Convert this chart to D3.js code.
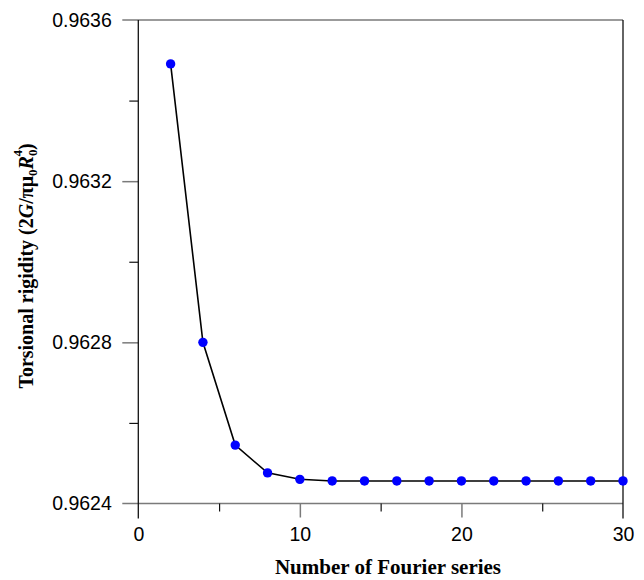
<!DOCTYPE html>
<html>
<head>
<meta charset="utf-8">
<script src="https://cdn.jsdelivr.net/npm/d3@7"></script>
<style>
  html, body { margin: 0; padding: 0; background: #fff; }
  svg { display: block; }
</style>
</head>
<body>
<svg id="chart" width="644" height="580"></svg>
<script>
// ---- data ----
const fourierTerms = [2, 4, 6, 8, 10, 12, 14, 16, 18, 20, 22, 24, 26, 28, 30];
const rigidity = [0.963491, 0.96280, 0.962545, 0.962476, 0.962460, 0.962456, 0.962456,
                  0.962456, 0.962456, 0.962456, 0.962456, 0.962456, 0.962456, 0.962456, 0.962456];
const xMajorTicks = [0, 10, 20, 30];
const xMinorTicks = [5, 15, 25];
const yMajorTicks = [0.9624, 0.9628, 0.9632, 0.9636];
const yMinorTicks = [0.9626, 0.9630, 0.9634];
const yTickLabels = ["0.9624", "0.9628", "0.9632", "0.9636"];

const svg = d3.select("#chart");
const x = d3.scaleLinear().domain([0, 30]).range([138.3, 623]);
const y = d3.scaleLinear().domain([0.9624, 0.9636]).range([503.5, 20]);

const grey = "#7a7a7a";
const sans = "'Liberation Sans', Arial, Helvetica, sans-serif";
const serif = "'Liberation Serif', 'Times New Roman', serif";

// horizontal frame lines (grey) at top and bottom, with tick overhang to the left
[0.9624, 0.9636].forEach(v => {
  svg.append("line").attr("x1", x(0) - 16).attr("x2", x(30))
    .attr("y1", y(v)).attr("y2", y(v))
    .attr("stroke", grey).attr("stroke-width", 1.5);
});

// y axis ticks via d3 axis
const yMajorAxis = d3.axisLeft(y).tickValues(yMajorTicks.filter(v => v !== 0.9624 && v !== 0.9636))
  .tickSize(16).tickFormat("");
const gyM = svg.append("g").attr("transform", `translate(${x(0)},0)`).call(yMajorAxis);
gyM.select(".domain").remove();
gyM.selectAll("line").attr("stroke", grey).attr("stroke-width", 1.5);

const yMinorAxis = d3.axisLeft(y).tickValues(yMinorTicks).tickSize(9).tickFormat("");
const gym = svg.append("g").attr("transform", `translate(${x(0)},0)`).call(yMinorAxis);
gym.select(".domain").remove();
gym.selectAll("line").attr("stroke", "#111").attr("stroke-width", 1.2);

// y tick labels
const yLab = d3.axisLeft(y).tickValues(yMajorTicks).tickSize(0).tickPadding(26.5)
  .tickFormat((d, i) => yTickLabels[i]);
const gyl = svg.append("g").attr("transform", `translate(${x(0)},0)`).call(yLab);
gyl.select(".domain").remove();
gyl.selectAll("text").attr("font-family", sans).attr("font-size", 19.5).attr("fill", "#000");

// x axis ticks
const xMajorAxis = d3.axisBottom(x).tickValues(xMajorTicks.filter(v => v !== 0 && v !== 30))
  .tickSize(14).tickFormat("");
const gxM = svg.append("g").attr("transform", `translate(0,${y(0.9624)})`).call(xMajorAxis);
gxM.select(".domain").remove();
gxM.selectAll("line").attr("stroke", grey).attr("stroke-width", 1.5);

const xMinorAxis = d3.axisBottom(x).tickValues(xMinorTicks).tickSize(8).tickFormat("");
const gxm = svg.append("g").attr("transform", `translate(0,${y(0.9624)})`).call(xMinorAxis);
gxm.select(".domain").remove();
gxm.selectAll("line").attr("stroke", "#111").attr("stroke-width", 1.2);

const xLab = d3.axisBottom(x).tickValues(xMajorTicks).tickSize(0).tickPadding(24)
  .tickFormat(d3.format("d"));
const gxl = svg.append("g").attr("transform", `translate(0,${y(0.9624)})`).call(xLab);
gxl.select(".domain").remove();
gxl.selectAll("text").attr("font-family", sans).attr("font-size", 19.5).attr("fill", "#000");

// vertical frame lines (black) extending below bottom
[0, 30].forEach(v => {
  svg.append("line").attr("x1", x(v)).attr("x2", x(v))
    .attr("y1", y(0.9636)).attr("y2", y(0.9624) + 15)
    .attr("stroke", "#111").attr("stroke-width", 1.3);
});

// data line
const pts = fourierTerms.map((d, i) => [d, rigidity[i]]);
svg.append("path").datum(pts)
  .attr("d", d3.line().x(d => x(d[0])).y(d => y(d[1])))
  .attr("fill", "none").attr("stroke", "#000").attr("stroke-width", 1.6);

svg.selectAll("circle.pt").data(pts).enter().append("circle")
  .attr("class", "pt")
  .attr("cx", d => x(d[0])).attr("cy", d => y(d[1])).attr("r", 4.7)
  .attr("fill", "#0000ff");

// x axis title
svg.append("text")
  .attr("x", 388).attr("y", 574)
  .attr("text-anchor", "middle")
  .attr("font-family", serif).attr("font-weight", "bold").attr("font-size", 21)
  .text("Number of Fourier series");

// y axis title
const yt = svg.append("text")
  .attr("transform", `translate(33, 266) rotate(-90)`)
  .attr("text-anchor", "middle")
  .attr("font-family", serif).attr("font-weight", "bold").attr("font-size", 20);
yt.append("tspan").text("Torsional rigidity (2");
yt.append("tspan").attr("font-style", "italic").text("G");
yt.append("tspan").text("/πμ");
yt.append("tspan").attr("font-size", 13).attr("dy", 4).text("0");
yt.append("tspan").attr("font-style", "italic").attr("dy", -4).text("R");
yt.append("tspan").attr("font-size", 13).attr("dy", 4).text("0");
yt.append("tspan").attr("font-size", 13).attr("dy", -15).attr("dx", -7).text("4");
yt.append("tspan").attr("dy", 11).text(")");
</script>
</body>
</html>
